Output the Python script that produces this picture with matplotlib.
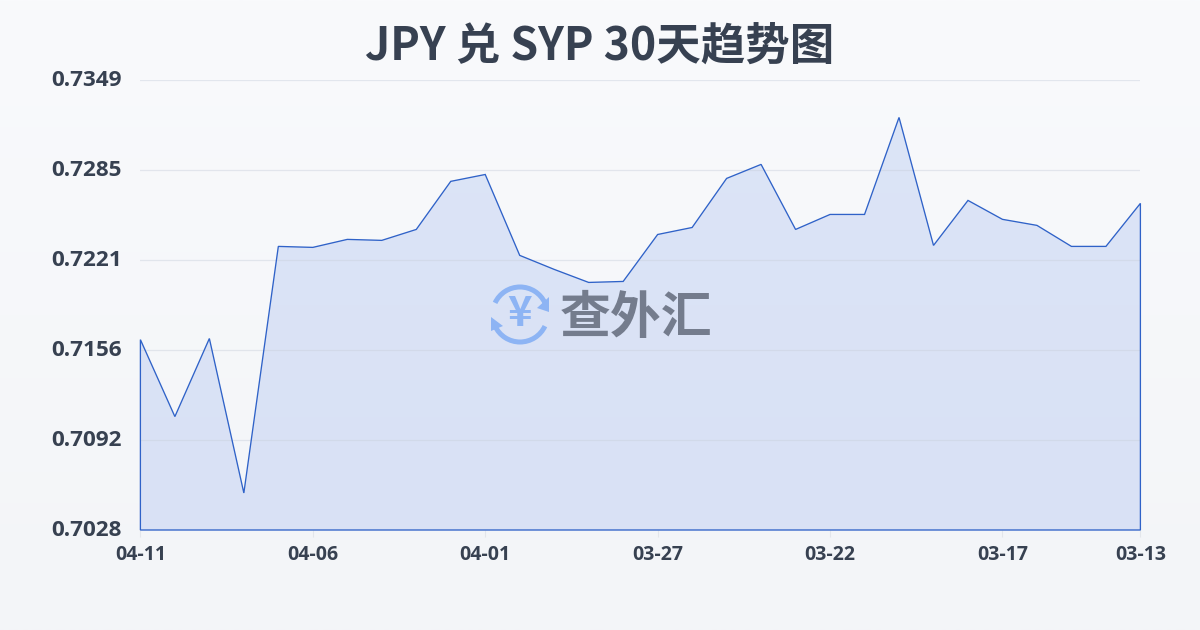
import numpy as np
import matplotlib
matplotlib.use("Agg")
import matplotlib.pyplot as plt
import matplotlib.transforms as mtrans
from matplotlib.patches import Arc, Polygon

plt.rcParams['font.family'] = ['Noto Sans CJK SC', 'DejaVu Sans']

title = "JPY 兑 SYP 30天趋势图"
watermark = "查外汇"
dates = ["04-11", "04-06", "04-01", "03-27", "03-22", "03-17", "03-13"]
date_positions = [0, 5, 10, 15, 20, 25, 29]
y_ticks = [0.7028, 0.7092, 0.7156, 0.7221, 0.7285, 0.7349]
y_grid = [0.7028, 0.70922, 0.71564, 0.72206, 0.72848, 0.7349]
rates = [0.71638, 0.71089, 0.71646, 0.70544, 0.72303, 0.72296, 0.72353, 0.72346,
         0.72424, 0.72767, 0.72816, 0.72239, 0.72139, 0.72046, 0.72053, 0.72388,
         0.72438, 0.72788, 0.72888, 0.72424, 0.72531, 0.72531, 0.73223, 0.72310,
         0.72631, 0.72496, 0.72453, 0.72303, 0.72303, 0.72610]

TEXT = "#374151"
LINE = "#2f62c8"
W, H = 1200, 630
NUM_FONT = ["Open Sans", "DejaVu Sans"]

fig = plt.figure(figsize=(W / 100, H / 100), dpi=100)

# page background
bg = fig.add_axes([0, 0, 1, 1], zorder=0)
bg.axis("off")
grad = np.linspace(0, 1, 256)[:, None, None]
top = np.array([249, 250, 252]) / 255
bot = np.array([243, 245, 248]) / 255
bg.imshow(top + (bot - top) * grad, aspect="auto", extent=[0, 1, 0, 1])

# chart
ax = fig.add_axes([140.4 / W, (H - 530) / H, 1000 / W, 450 / H], zorder=1)
ax.patch.set_alpha(0)
x = np.arange(len(rates))
ymin, ymax = y_grid[0], y_grid[-1]

area_verts = np.column_stack([np.r_[x[0], x, x[-1]], np.r_[ymin, rates, ymin]])
clip = Polygon(area_verts, closed=True, transform=ax.transData, facecolor="none", edgecolor="none")
ax.add_patch(clip)
fade = np.linspace(0, 1, 256)[:, None, None]
c_top = np.array([220, 229, 247]) / 255
c_bot = np.array([217, 225, 245]) / 255
img = ax.imshow(c_top + (c_bot - c_top) * fade, aspect="auto", zorder=1,
                extent=[x[0], x[-1], ymin, ymax])
img.set_clip_path(clip)
ax.set_xlim(x[0], x[-1])
ax.set_ylim(ymin, ymax)

ax.set_yticks(y_grid)
ax.set_yticklabels([f"{t:.4f}" for t in y_ticks], fontsize=16.2, color=TEXT)
ax.grid(axis="y", color="#c9d0dc", alpha=0.45, lw=0.9, zorder=2)
ax.set_axisbelow(False)
ax.set_xticks(date_positions)
ax.set_xticklabels(dates, fontsize=14, color=TEXT)
ax.tick_params(axis="x", length=5, width=0.8, color="#e3e6eb", pad=4)
ax.tick_params(axis="y", length=0, pad=13.4)
shift = mtrans.ScaledTranslation(0, 2 / 100, fig.dpi_scale_trans)
for lab in ax.get_yticklabels():
    lab.set_family(NUM_FONT)
    lab.set_fontweight("bold")
    lab.set_transform(lab.get_transform() + shift)
shift_x = mtrans.ScaledTranslation(0, -2 / 100, fig.dpi_scale_trans)
for lab in ax.get_xticklabels():
    lab.set_family(NUM_FONT)
    lab.set_fontweight("bold")
    lab.set_transform(lab.get_transform() + shift_x)
for s in ax.spines.values():
    s.set_visible(False)

outline = Polygon(area_verts, closed=True, fill=False, edgecolor=LINE, lw=0.95, zorder=3,
                  joinstyle="miter", clip_on=False)
ax.add_patch(outline)

# title
fig.text(600 / W, 1 - 47 / H, title, ha="center", va="center", fontsize=32,
         fontweight="bold", color=TEXT)

# watermark (pixel coordinates)
ov = fig.add_axes([0, 0, 1, 1], zorder=3)
ov.axis("off")
ov.patch.set_alpha(0)
ov.set_xlim(0, W)
ov.set_ylim(H, 0)
BLUE = "#8db4f4"
cx, cy, r = 520, 314.5, 27.5
ov.add_patch(Arc((cx, cy), 2 * r, 2 * r, theta1=205, theta2=335, color=BLUE, lw=3.6))
ov.add_patch(Arc((cx, cy), 2 * r, 2 * r, theta1=25, theta2=155, color=BLUE, lw=3.6))
ov.add_patch(Polygon([[549, 297], [549, 312], [537, 308]], closed=True, color=BLUE, lw=0))
ov.add_patch(Polygon([[491, 317], [503, 326], [491, 331]], closed=True, color=BLUE, lw=0))
ov.text(cx, cy, "¥", ha="center", va="center", fontsize=30, fontweight="bold", color=BLUE)
ov.text(636, 319, watermark, ha="center", va="center", fontsize=36.6, fontweight="bold",
        color="#747c8d")

fig.savefig("out.png", dpi=100)
